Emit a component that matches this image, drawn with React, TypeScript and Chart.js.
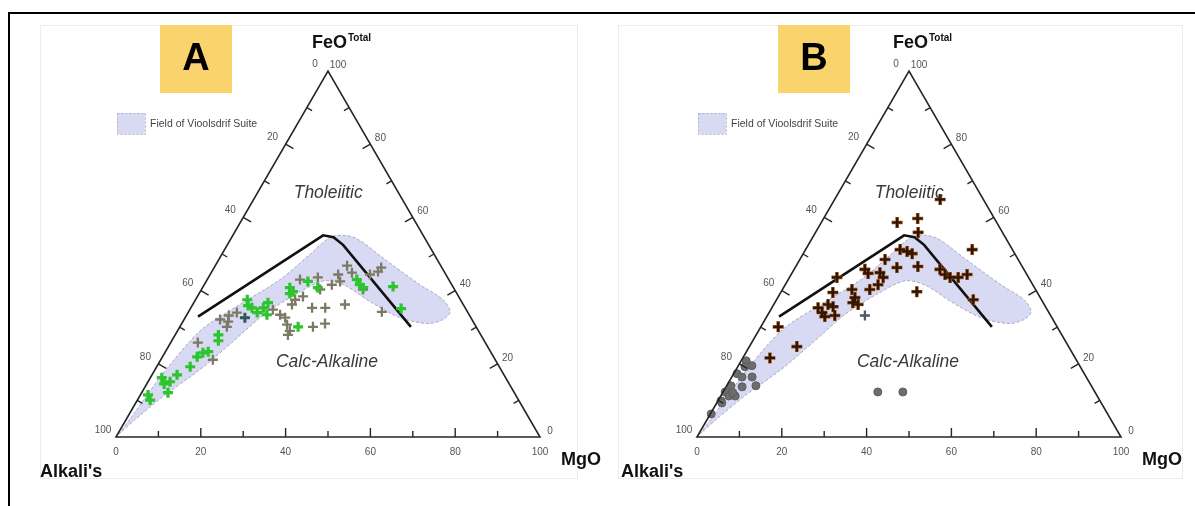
import React, { useEffect, useRef } from "react";
import { Chart, registerables } from "chart.js";

Chart.register(...registerables);

// Ternary points are [FeO %, MgO %]; Alkali's % = 100 - FeO - MgO
type TP = [number, number];

const tickLabelValues = [0, 20, 40, 60, 80, 100];
const tickMarkValues = [10, 20, 30, 40, 50, 60, 70, 80, 90];

const fieldOfVioolsdrif: TP[] = [
  [0.8, 0.3], [6.0, 1.0], [17.8, 2.5], [29.3, 5.5], [36.2, 11.1], [43.0, 17.2],
  [49.9, 20.8], [54.5, 23.2], [55.1, 26.4], [54.0, 30.1], [48.5, 39.2], [41.6, 50.9],
  [37.5, 58.4], [34.2, 61.7], [32.1, 61.1], [31.0, 58.1], [32.6, 50.7], [37.0, 41.4],
  [41.4, 33.3], [42.7, 27.9], [39.7, 23.6], [33.7, 18.3], [26.6, 14.8], [18.4, 10.6],
  [11.5, 5.8], [4.7, 2.1], [0.8, 0.3],
];

const tholeiiticCalcAlkalineLine: TP[] = [
  [32.9, 2.9], [55.1, 21.3], [54.6, 24.0], [52.5, 27.3], [30.1, 54.5],
];

const sampleA_green: TP[] = [
  [11.5, 1.8], [10.1, 3.0], [16.2, 2.7], [14.5, 4.1], [15.1, 5.2], [17.0, 5.9], [12.1, 6.2],
  [19.2, 7.9], [21.9, 8.2], [23.0, 9.0], [23.3, 10.1], [27.9, 10.2], [26.3, 11.0],
  [37.5, 12.2], [35.9, 13.2], [35.3, 14.4], [34.0, 16.3], [35.3, 17.1], [36.7, 17.5],
  [33.4, 18.9], [40.8, 20.6], [39.7, 21.9], [39.2, 21.4], [42.5, 24.0], [40.8, 27.2],
  [30.1, 27.9], [43.0, 35.3], [41.6, 36.7], [40.8, 37.9], [41.1, 44.8], [35.1, 49.7],
];

const sampleA_grey: TP[] = [
  [25.8, 6.4], [21.1, 12.3], [30.1, 11.1], [31.5, 10.7], [34.0, 11.5], [32.1, 8.5],
  [33.2, 10.0], [34.8, 19.6], [33.4, 22.0], [32.6, 23.6], [30.7, 25.0], [29.0, 26.5],
  [27.9, 26.6], [36.2, 23.4], [37.5, 23.5], [43.0, 21.9], [43.6, 25.8], [40.3, 28.0],
  [41.6, 30.1], [35.3, 28.6], [35.3, 31.7], [30.1, 31.4], [31.0, 33.8], [36.2, 35.9],
  [44.4, 30.2], [46.8, 31.1], [42.5, 31.6], [44.9, 33.2], [40.3, 38.1], [44.4, 37.7],
  [45.2, 39.2], [46.3, 39.4], [34.2, 45.6], [38.4, 24.9],
];

const sampleA_dark: TP[] = [[32.6, 14.1]];

const sampleB_brown: TP[] = [
  [21.6, 6.4], [30.1, 4.1], [24.7, 11.2], [35.3, 10.9], [32.9, 13.7], [39.5, 12.3],
  [43.6, 11.2], [35.6, 14.3], [33.2, 15.9], [34.0, 12.5], [36.2, 12.8], [40.3, 16.4],
  [38.1, 18.2], [36.2, 19.9], [36.7, 18.4], [45.8, 16.7], [44.7, 18.0], [44.9, 20.7],
  [43.6, 22.1], [48.5, 20.1], [40.3, 20.6], [41.6, 21.9], [46.3, 24.0], [51.2, 22.3],
  [50.7, 24.2], [50.1, 25.7], [46.6, 28.8], [39.7, 32.0], [58.6, 17.9], [59.7, 22.2],
  [55.9, 24.2], [64.9, 24.9], [45.8, 34.4], [44.4, 36.3], [43.6, 37.9], [43.6, 39.8],
  [44.4, 41.5], [51.2, 39.3], [37.5, 46.4],
];

const sampleB_bluegrey: TP[] = [[33.2, 23.0]];

const sampleB_circles: TP[] = [
  [6.3, 0.2], [9.9, 0.7], [12.3, 0.5], [11.2, 1.9], [11.2, 3.4], [14.0, 1.0], [13.7, 3.8],
  [17.3, 0.8], [16.4, 2.4], [16.4, 4.8], [14.0, 6.9], [20.8, 1.2], [19.5, 3.2], [19.2, 1.7],
  [12.1, 2.4], [9.3, 1.2], [12.3, 36.5], [12.3, 42.4],
];

const H = Math.sqrt(3) / 2;
const toXY = (p: TP) => ({ x: p[1] / 100 + p[0] / 200, y: (p[0] / 100) * H });

const FONT = '"Liberation Sans", Arial, sans-serif';

const ternaryPlugin = {
  id: "ternary",
  beforeDraw(chart: any, _a: any, opts: any) {
    const { ctx } = chart;
    ctx.save();
    ctx.strokeStyle = "#ececec";
    ctx.lineWidth = 1;
    ctx.strokeRect(opts.frameX + 0.5, 25.5, opts.frameW, 453);
    ctx.restore();
  },
  afterDatasetsDraw(chart: any) {
    const { ctx } = chart;
    const xs = chart.scales.x;
    const ys = chart.scales.y;
    const P = (f: number, m: number) => ({
      x: xs.getPixelForValue(m / 100 + f / 200),
      y: ys.getPixelForValue((f / 100) * H),
    });
    const bl = P(0, 0), br = P(0, 100), ap = P(100, 0);
    ctx.save();
    ctx.strokeStyle = "#262626";
    ctx.lineWidth = 1.6;
    ctx.beginPath();
    ctx.moveTo(bl.x, bl.y);
    ctx.lineTo(ap.x, ap.y);
    ctx.lineTo(br.x, br.y);
    ctx.closePath();
    ctx.stroke();
    ctx.lineWidth = 1.4;
    const seg = (p: any, dx: number, dy: number, len: number) => {
      ctx.beginPath();
      ctx.moveTo(p.x, p.y);
      ctx.lineTo(p.x + dx * len, p.y + dy * len);
      ctx.stroke();
    };
    for (const v of tickMarkValues) {
      const len = v % 20 === 0 ? 9 : 6;
      seg(P(0, v), 0, -1, len);
      seg(P(100 - v, 0), 0.866, 0.5, len);
      seg(P(v, 100 - v), -0.866, 0.5, len);
    }
    ctx.fillStyle = "#555";
    ctx.font = `10px ${FONT}`;
    ctx.textAlign = "center";
    ctx.textBaseline = "middle";
    for (const v of tickLabelValues) {
      const b = P(0, v);
      ctx.fillText(String(v), b.x, b.y + 15);
      const l = P(100 - v, 0);
      ctx.fillText(String(v), l.x - 13, l.y - 7);
      const r = P(v, 100 - v);
      ctx.fillText(String(v), r.x + 10, r.y - 6);
    }
    ctx.restore();
  },
  afterDraw(chart: any, _a: any, opts: any) {
    const { ctx } = chart;
    const xs = chart.scales.x;
    const ys = chart.scales.y;
    const P = (f: number, m: number) => ({
      x: xs.getPixelForValue(m / 100 + f / 200),
      y: ys.getPixelForValue((f / 100) * H),
    });
    const bl = P(0, 0), br = P(0, 100), ap = P(100, 0);
    ctx.save();
    // field labels
    ctx.fillStyle = "#3a3a3a";
    ctx.font = `italic 17.5px ${FONT}`;
    ctx.textAlign = "center";
    ctx.textBaseline = "middle";
    const th = P(66.7, 16.7);
    ctx.fillText("Tholeiitic", th.x, th.y);
    const ca = P(20.5, 39.5);
    ctx.fillText("Calc-Alkaline", ca.x, ca.y);

    // apex titles
    ctx.fillStyle = "#111";
    ctx.textAlign = "left";
    ctx.textBaseline = "alphabetic";
    ctx.font = `bold 18px ${FONT}`;
    const fx = ap.x - 16;
    ctx.fillText("FeO", fx, ap.y - 23);
    const w = ctx.measureText("FeO").width;
    ctx.font = `bold 10px ${FONT}`;
    ctx.fillText("Total", fx + w + 1, ap.y - 30);
    ctx.font = `bold 18px ${FONT}`;
    ctx.fillText("Alkali's", bl.x - 76, bl.y + 40);
    ctx.fillText("MgO", br.x + 21, br.y + 28);

    // letter box
    ctx.fillStyle = "#f9d36c";
    ctx.fillRect(opts.boxX, 25, opts.boxW, 68);
    ctx.fillStyle = "#000";
    ctx.font = `bold 38px ${FONT}`;
    ctx.textAlign = "center";
    ctx.textBaseline = "middle";
    ctx.fillText(opts.letter, opts.boxX + opts.boxW / 2, 60);

    // legend
    const lx = bl.x + 1;
    ctx.fillStyle = "rgb(216,218,244)";
    ctx.fillRect(lx, 113, 28, 21);
    ctx.strokeStyle = "#b4b4c8";
    ctx.lineWidth = 1;
    ctx.setLineDash([2, 2]);
    ctx.strokeRect(lx + 0.5, 113.5, 28, 21);
    ctx.setLineDash([]);
    ctx.fillStyle = "#444";
    ctx.font = `10.5px ${FONT}`;
    ctx.textAlign = "left";
    ctx.fillText("Field of Vioolsdrif Suite", lx + 33, 124);
    ctx.restore();
  },
};

function baseDatasets() {
  return [
    {
      label: "Field of Vioolsdrif Suite",
      data: fieldOfVioolsdrif.map(toXY),
      showLine: true,
      fill: "shape",
      backgroundColor: "rgb(216,218,244)",
      borderColor: "#a8a8c2",
      borderWidth: 1,
      borderDash: [3, 2],
      pointRadius: 0,
      tension: 0.3,
      order: 20,
      clip: false,
    },
    {
      label: "Tholeiitic / Calc-Alkaline boundary",
      data: tholeiiticCalcAlkalineLine.map(toXY),
      showLine: true,
      fill: false,
      borderColor: "#111",
      borderWidth: 2.6,
      pointRadius: 0,
      order: 10,
      clip: false,
    },
  ];
}

function crossSet(label: string, pts: TP[], color: string, width: number, radius: number, order: number) {
  return {
    label,
    data: pts.map(toXY),
    showLine: false,
    pointStyle: "cross",
    pointRadius: radius,
    pointBorderWidth: width,
    borderColor: color,
    backgroundColor: color,
    order,
    clip: false,
  };
}

function Panel(props: {
  left: number;
  width: number;
  padLeft: number;
  padRight: number;
  letter: string;
  boxX: number;
  frameX: number;
  frameW: number;
  datasets: any[];
}) {
  const ref = useRef<HTMLCanvasElement>(null);
  useEffect(() => {
    const chart = new Chart(ref.current as HTMLCanvasElement, {
      type: "scatter",
      data: { datasets: props.datasets },
      options: {
        animation: false,
        responsive: false,
        devicePixelRatio: 1,
        layout: { padding: { left: props.padLeft, right: props.padRight, top: 71, bottom: 69 } },
        scales: {
          x: { type: "linear", min: 0, max: 1, display: false },
          y: { type: "linear", min: 0, max: H, display: false },
        },
        plugins: {
          legend: { display: false },
          tooltip: { enabled: false },
          ternary: { letter: props.letter, boxX: props.boxX, boxW: 72, frameX: props.frameX, frameW: props.frameW },
        } as any,
      },
      plugins: [ternaryPlugin],
    } as any);
    return () => chart.destroy();
  }, []);
  return (
    <canvas
      ref={ref}
      width={props.width}
      height={506}
      style={{ position: "absolute", left: props.left, top: 0, width: props.width, height: 506 }}
    />
  );
}

export default function App() {
  const dsA = [
    ...baseDatasets(),
    crossSet("A grey", sampleA_grey, "#7c7a66", 2.3, 5, 3),
    crossSet("A green", sampleA_green, "#2dc42d", 3.2, 5, 2),
    crossSet("A dark", sampleA_dark, "#2e5a52", 3, 5, 1),
  ];
  const dsB = [
    ...baseDatasets(),
    crossSet("B halo", sampleB_brown, "#9a5a26", 3.6, 5.5, 4),
    crossSet("B brown", sampleB_brown, "#321402", 2.2, 5, 3),
    crossSet("B blue-grey", sampleB_bluegrey, "#4c5866", 2.3, 5, 2),
    {
      label: "B circles",
      data: sampleB_circles.map(toXY),
      showLine: false,
      pointStyle: "circle",
      pointRadius: 4,
      pointBorderWidth: 1,
      borderColor: "#5e5e5e",
      backgroundColor: "#6d6d6d",
      order: 1,
      clip: false,
    },
  ];
  return (
    <div
      style={{
        position: "fixed",
        left: 0,
        top: 0,
        width: 1195,
        height: 506,
        background: "#fff",
        overflow: "hidden",
      }}
    >
      <Panel left={0} width={615} padLeft={116} padRight={75} letter="A" boxX={160} frameX={40} frameW={537} datasets={dsA} />
      <Panel left={590} width={605} padLeft={107} padRight={74} letter="B" boxX={188} frameX={28} frameW={564} datasets={dsB} />
      <div
        style={{
          position: "absolute",
          left: 8,
          top: 12,
          width: 1200,
          height: 500,
          borderTop: "2.5px solid #000",
          borderLeft: "2.5px solid #000",
          boxSizing: "border-box",
        }}
      />
    </div>
  );
}
